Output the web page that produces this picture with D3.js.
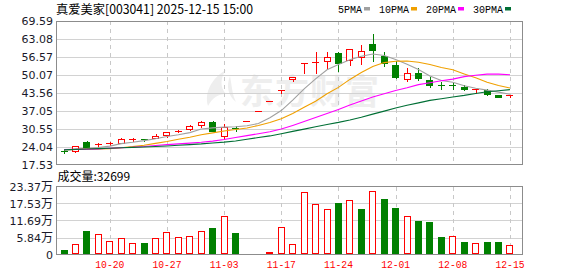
<!DOCTYPE html>
<html>
<head>
<meta charset="utf-8">
<script src="https://cdn.jsdelivr.net/npm/d3@7/dist/d3.min.js"></script>
<style>
  body { margin: 0; background: #fff; }
  svg { display: block; }
</style>
</head>
<body>
<div id="chart"></div>
<script>
const dates = ['10-14','10-15','10-16','10-17','10-20','10-21','10-22','10-23','10-24','10-27',
  '10-28','10-29','10-30','10-31','11-03','11-04','11-05','11-06','11-07','11-17',
  '11-18','11-19','11-20','11-21','11-24','11-25','11-26','11-27','11-28','12-01',
  '12-02','12-03','12-04','12-05','12-08','12-09','12-10','12-11','12-12','12-15'];

const opens  = [22.45, 22.3, 25.8, 24.75, 24.8, 25.3, 26.3, 26.75, 27.1, 28.1, 29.3, 30.4, 31.7, 33.1, 28.0, 30.9, 33.4, 36.9, 40.5, 44.4,
  48.7, 54.0, 54.7, 55.1, 58.0, 55.4, 56.7, 61.2, 56.9, 53.7, 48.7, 50.8, 48.3, 46.4, 46.45, 45.8, 44.85, 44.5, 42.8, 42.55];
const highs  = [23.3, 24.4, 26.0, 25.5, 25.7, 27.0, 27.2, 26.9, 28.5, 29.4, 30.2, 31.9, 33.3, 33.3, 32.2, 31.5, 33.4, 36.9, 40.5, 44.5,
  49.3, 54.2, 58.4, 58.5, 58.2, 59.5, 60.8, 65.0, 58.5, 55.1, 52.5, 52.5, 49.4, 47.5, 47.3, 46.3, 44.9, 45.0, 42.9, 42.6];
const lows   = [21.6, 22.2, 23.9, 24.0, 24.6, 25.2, 26.2, 26.2, 27.0, 27.6, 29.2, 29.9, 31.0, 29.6, 26.6, 29.8, 33.4, 36.9, 40.5, 43.3,
  47.7, 50.9, 50.9, 52.7, 51.5, 53.6, 53.9, 54.9, 53.2, 49.0, 47.9, 48.1, 45.7, 44.8, 44.9, 44.5, 43.4, 42.6, 42.0, 41.9];
const closes = [22.35, 24.3, 24.0, 24.8, 25.5, 26.6, 26.9, 26.65, 28.0, 29.3, 29.8, 31.4, 33.0, 29.8, 31.3, 30.8, 33.4, 36.9, 40.5, 44.5,
  49.3, 54.2, 54.8, 56.6, 54.2, 59.4, 58.7, 59.0, 54.2, 49.1, 50.8, 49.0, 46.3, 46.25, 46.35, 44.8, 44.9, 43.0, 42.1, 42.6];
const prevClose = 22.6;

const ma5  = [22.8, 23.0, 23.3, 23.7, 24.2, 25.1, 25.6, 26.2, 26.9, 27.7, 28.3, 29.1, 30.4, 30.8, 31.1, 31.2, 31.6, 32.4, 34.5, 37.1,
  40.9, 45.0, 48.6, 51.9, 53.8, 55.5, 56.8, 57.6, 57.1, 55.6, 53.9, 52.0, 49.6, 48.0, 47.4, 46.1, 45.2, 44.5, 43.8, 43.0];
const ma10 = [22.9, 23.0, 23.1, 23.2, 23.3, 23.6, 24.0, 24.5, 25.2, 25.9, 26.7, 27.4, 28.3, 29.0, 29.7, 30.2, 30.8, 31.7, 32.8, 34.1,
  36.0, 38.3, 40.5, 43.2, 45.5, 48.4, 50.9, 53.1, 54.5, 55.0, 55.1, 54.6, 53.8, 52.7, 51.9, 50.4, 49.0, 47.4, 46.2, 45.3];
const ma20 = [22.95, 23.0, 23.05, 23.2, 23.4, 23.6, 23.8, 24.05, 24.45, 24.75, 25.0, 25.3, 25.6, 26.0, 26.6, 27.3, 28.0, 28.7, 29.4, 30.4,
  31.7, 33.1, 34.6, 36.0, 37.5, 39.1, 40.6, 42.0, 43.2, 44.4, 45.4, 46.5, 47.2, 47.9, 48.5, 49.4, 49.9, 50.3, 50.3, 50.1];
const ma30 = [22.85, 23.0, 23.15, 23.3, 23.45, 23.6, 23.75, 23.9, 24.05, 24.25, 24.5, 24.75, 25.0, 25.35, 25.65, 26.05, 26.7, 27.3, 27.9, 28.7,
  29.55, 30.35, 31.2, 32.05, 32.8, 33.7, 34.7, 35.8, 36.9, 38.0, 39.0, 39.9, 40.8, 41.4, 42.0, 42.6, 43.3, 43.9, 44.3, 44.7];

// 成交量, 万手
const volumes = [1.6, 3.7, 8.1, 7.1, 4.7, 5.6, 3.9, 4.0, 5.6, 7.8, 6.0, 6.3, 8.1, 9.2, 13.2, 7.5, 0.1, 0.1, 0.8, 9.4,
  3.6, 21.4, 17.4, 15.6, 17.8, 18.7, 15.7, 21.8, 19.1, 16.0, 13.2, 11.6, 11.2, 6.1, 6.3, 4.4, 3.9, 4.4, 4.4, 3.27];
const lastVolume = 32699;

const priceTicks = [69.59, 63.08, 56.57, 50.07, 43.56, 37.05, 30.55, 24.04, 17.53];
const volTicks = [23.37, 17.53, 11.69, 5.84, 0];
const dateTicks = ['10-20','10-27','11-03','11-17','11-24','12-01','12-08','12-15'];

const maNames = ['5PMA', '10PMA', '20PMA', '30PMA'];
const maColors = ['#a0a0a0', '#f0a000', '#ff00ff', '#006f35'];
const title = '真爱美家[003041] 2025-12-15 15:00';

const W = 578, H = 276;
const left = 56, right = 522.5;
const pTop = 21, pBot = 164.5, vTop = 186.5, vBot = 254.5;
const RED = '#ff0000', GREEN = '#008000';

const svg = d3.select('#chart').append('svg')
  .attr('width', W).attr('height', H)
  .style('font-family', '"DejaVu Sans", sans-serif');

const x = d3.scaleBand().domain(dates).range([56.2, 517.8]).padding(0.37);
const y = d3.scaleLinear().domain([17.53, 69.59]).range([pBot, pTop]);
const yv = d3.scaleLinear().domain([0, 23.37]).range([vBot, vTop]);
const cx = i => x(dates[i]) + x.bandwidth() / 2;
const bw = 7;
const bx = i => Math.round(cx(i) - bw / 2);

// watermark
const wm = svg.append('g').attr('fill', '#eeeeee');
wm.append('path')
  .attr('d', 'M226,70 C212,78 204,92 208,106 C212,98 218,94 226,94 C220,88 220,78 226,70 Z M230,76 C226,86 228,96 236,102 C232,94 232,86 230,76 Z');
wm.append('text')
  .attr('x', 240).attr('y', 104)
  .attr('font-family', '"Noto Sans CJK SC"')
  .attr('font-weight', 'bold')
  .attr('font-size', 34)
  .attr('letter-spacing', 1)
  .text('东方财富');

// grid
const grid = svg.append('g').attr('shape-rendering', 'crispEdges');
grid.selectAll('.hp').data(priceTicks.slice(1, -1)).enter().append('line')
  .attr('x1', left).attr('x2', right)
  .attr('y1', d => Math.round(y(d)) + 0.5).attr('y2', d => Math.round(y(d)) + 0.5)
  .attr('stroke', '#d2d2d2');
grid.selectAll('.hv').data(volTicks.slice(1, -1)).enter().append('line')
  .attr('x1', left).attr('x2', right)
  .attr('y1', d => Math.round(yv(d)) + 0.5).attr('y2', d => Math.round(yv(d)) + 0.5)
  .attr('stroke', '#d2d2d2');
[[pTop, pBot], [vTop, vBot]].forEach(([t, b]) => {
  grid.selectAll(null).data(dateTicks).enter().append('line')
    .attr('x1', d => Math.round(cx(dates.indexOf(d))) + 0.5)
    .attr('x2', d => Math.round(cx(dates.indexOf(d))) + 0.5)
    .attr('y1', t).attr('y2', b)
    .attr('stroke', '#c8c8c8')
    .attr('stroke-dasharray', '4,4');
});

// candles
const idx = d3.range(dates.length);
const up = i => closes[i] >= opens[i];
const candles = svg.append('g').attr('shape-rendering', 'crispEdges');
candles.selectAll('.wick').data(idx).enter().append('line')
  .attr('x1', i => Math.round(cx(i)) + 0.5).attr('x2', i => Math.round(cx(i)) + 0.5)
  .attr('y1', i => Math.round(y(highs[i]))).attr('y2', i => Math.round(y(lows[i])) + 1)
  .attr('stroke', i => up(i) ? RED : GREEN);
candles.selectAll('.body').data(idx).enter().append('rect')
  .each(function (i) {
    const top = Math.round(y(Math.max(opens[i], closes[i])));
    const bot = Math.round(y(Math.min(opens[i], closes[i])));
    const el = d3.select(this);
    if (up(i)) {
      if (bot - top < 2) {
        el.attr('x', bx(i)).attr('width', bw).attr('y', top).attr('height', 1).attr('fill', RED);
      } else {
        el.attr('x', bx(i) + 0.5).attr('width', bw - 1).attr('y', top + 0.5).attr('height', bot - top)
          .attr('fill', '#fff').attr('stroke', RED);
      }
    } else {
      el.attr('x', bx(i)).attr('width', bw).attr('y', top).attr('height', Math.max(1, bot - top + 1))
        .attr('fill', GREEN);
    }
  });

// moving averages
const line = d3.line().x((d, i) => cx(i)).y(d => y(d));
[ma5, ma10, ma20, ma30].forEach((s, k) => {
  svg.append('path').datum(s)
    .attr('d', line)
    .attr('fill', 'none')
    .attr('stroke', maColors[k])
    .attr('stroke-width', 1.1);
});

// volume bars
const volUp = i => closes[i] >= (i === 0 ? prevClose : closes[i - 1]);
svg.append('g').attr('shape-rendering', 'crispEdges')
  .selectAll('rect').data(idx).enter().append('rect')
  .each(function (i) {
    const top = Math.round(yv(volumes[i]));
    const el = d3.select(this);
    if (volUp(i)) {
      el.attr('x', bx(i) + 0.5).attr('width', bw - 1)
        .attr('y', top + 0.5).attr('height', Math.max(0, vBot - 0.5 - top - 0.5))
        .attr('fill', '#fff').attr('stroke', RED).attr('stroke-width', 1.2);
    } else {
      el.attr('x', bx(i)).attr('width', bw)
        .attr('y', top).attr('height', vBot - top).attr('fill', GREEN);
    }
  });

// frames
[[pTop, pBot], [vTop, vBot]].forEach(([t, b]) => {
  svg.append('rect')
    .attr('x', left + 0.5).attr('y', t).attr('width', right - left - 0.5).attr('height', b - t)
    .attr('fill', 'none').attr('stroke', '#8c8c8c').attr('shape-rendering', 'crispEdges');
});

// axes
const yAxis = svg.append('g')
  .attr('transform', `translate(${left},0)`)
  .call(d3.axisLeft(y).tickValues(priceTicks).tickSize(0).tickPadding(3).tickFormat(d3.format('.2f')));
yAxis.select('.domain').remove();
yAxis.selectAll('text').attr('font-size', 11).attr('fill', '#1a1a2a').attr('font-family', '"DejaVu Sans"');

const vAxis = svg.append('g')
  .attr('transform', `translate(${left},0)`)
  .call(d3.axisLeft(yv).tickValues(volTicks).tickSize(0).tickPadding(3).tickFormat(d => d === 0 ? '0' : d.toFixed(2)));
vAxis.select('.domain').remove();
vAxis.selectAll('text').attr('font-size', 11).attr('fill', '#1a1a2a').attr('font-family', '"DejaVu Sans"')
  .each(function (d) {
    if (d !== 0) d3.select(this).append('tspan').attr('font-size', 12).attr('font-family', '"Noto Sans CJK SC"').text('万');
  });

const xAxis = svg.append('g')
  .attr('transform', `translate(0,${vBot})`)
  .call(d3.axisBottom(x).tickValues(dateTicks).tickSize(0).tickPadding(6));
xAxis.select('.domain').remove();
xAxis.selectAll('text')
  .attr('font-size', 11).attr('fill', RED).attr('font-family', '"Liberation Mono", monospace')
  .attr('textLength', 29).attr('lengthAdjust', 'spacingAndGlyphs');

// title and legend
svg.append('text')
  .attr('x', 56).attr('y', 13.5)
  .attr('font-family', '"Noto Sans CJK SC"').attr('font-size', 12.5).attr('fill', '#000')
  .attr('textLength', 197).attr('lengthAdjust', 'spacingAndGlyphs')
  .text(title);

let lx = 338;
maNames.forEach((name, k) => {
  svg.append('text')
    .attr('x', lx).attr('y', 12.5)
    .attr('font-family', '"Liberation Mono", monospace').attr('font-size', 10.5).attr('fill', '#000')
    .attr('textLength', name.length * 6).attr('lengthAdjust', 'spacingAndGlyphs')
    .text(name);
  const sx = lx + name.length * 6 + 2;
  svg.append('rect').attr('x', sx).attr('y', 7).attr('width', 6).attr('height', 3.5).attr('fill', maColors[k]);
  lx = sx + 6 + 9;
});

svg.append('text')
  .attr('x', 57.5).attr('y', 181)
  .attr('font-size', 12).attr('fill', '#000')
  .attr('font-family', '"Noto Sans CJK SC"')
  .text('成交量:' + lastVolume);
</script>
</body>
</html>
